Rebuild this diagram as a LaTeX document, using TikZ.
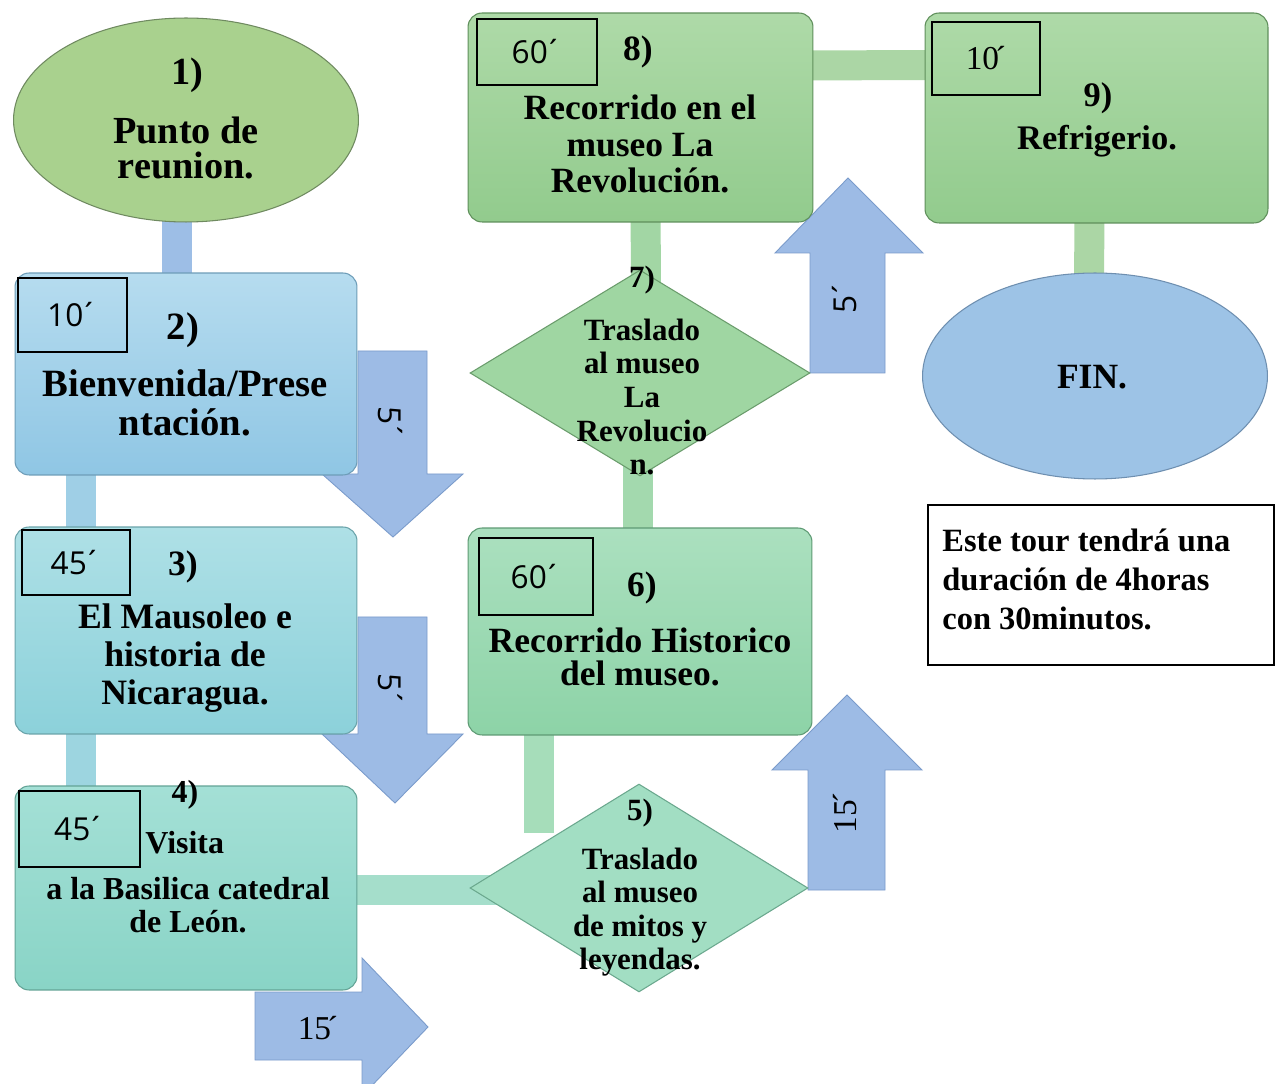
\documentclass[tikz,border=0pt]{standalone}
\usepackage{fontspec}
\setmainfont{Liberation Serif}
\newfontfamily\minfont{Open Sans}
\usetikzlibrary{shapes.geometric,backgrounds,calc}
\definecolor{eoneF}{HTML}{A9D18E}
\definecolor{eoneD}{HTML}{6F8A60}
\definecolor{btwoT}{HTML}{B6DCEF}
\definecolor{btwoB}{HTML}{8FC6E4}
\definecolor{btwoD}{HTML}{6E9DB8}
\definecolor{bthrT}{HTML}{AEE0E6}
\definecolor{bthrB}{HTML}{8CD1DA}
\definecolor{bthrD}{HTML}{6AA3AA}
\definecolor{bfouT}{HTML}{A4E0D6}
\definecolor{bfouB}{HTML}{89D4C6}
\definecolor{bfouD}{HTML}{63A396}
\definecolor{dfivF}{HTML}{A2DEC3}
\definecolor{dfivD}{HTML}{6BA88E}
\definecolor{bsixT}{HTML}{ABE0BF}
\definecolor{bsixB}{HTML}{8DD3A7}
\definecolor{bsixD}{HTML}{5E9A74}
\definecolor{dsevF}{HTML}{9FD6A2}
\definecolor{dsevD}{HTML}{6A9C6C}
\definecolor{beigT}{HTML}{AEDAA8}
\definecolor{beigB}{HTML}{92CB8D}
\definecolor{beigD}{HTML}{5F8F5B}
\definecolor{finF}{HTML}{9DC3E6}
\definecolor{finD}{HTML}{6E8FB0}
\definecolor{arrF}{HTML}{9DBBE5}
\definecolor{arrD}{HTML}{7A9BCB}
\definecolor{cAB}{HTML}{9DBEE6}
\definecolor{cBC}{HTML}{9FCFE6}
\definecolor{cCD}{HTML}{9DD5E0}
\definecolor{cDE}{HTML}{A5DECB}
\definecolor{cEF}{HTML}{A6DDBA}
\definecolor{cFG}{HTML}{A3D9AE}
\definecolor{cGH}{HTML}{A2D6A4}
\definecolor{cHI}{HTML}{ABD6A5}
\newcommand\acc{\kern-0.12em´}
\tikzset{
  proc/.style={rectangle, rounded corners=8pt, line width=0.6pt, inner sep=0pt},
  minbox/.style={rectangle, draw=black, line width=1pt, inner sep=0pt,
                 font=\minfont\fontsize{18}{20}\selectfont},
  minser/.style={rectangle, draw=black, line width=1pt, inner sep=0pt,
                 font=\fontsize{19}{20}\selectfont},
  blockarrow/.style={fill=arrF, draw=arrD, line width=0.5pt, line join=miter},
  arrlab/.style={inner sep=0pt, font=\minfont\fontsize{18}{20}\selectfont},
  arrlabser/.style={inner sep=0pt, font=\fontsize{19}{20}\selectfont},
  bar/.style={line width=0.6cm},
  tA/.style={inner sep=0pt, align=center, font=\bfseries\fontsize{21.8}{19.8}\selectfont},
  tB/.style={inner sep=0pt, align=center, font=\bfseries\fontsize{22}{22.1}\selectfont},
  tC/.style={inner sep=0pt, align=center, font=\bfseries\fontsize{20.3}{21.5}\selectfont},
  tD/.style={inner sep=0pt, align=center, font=\bfseries\fontsize{18.2}{19}\selectfont},
  tE/.style={inner sep=0pt, align=center, font=\bfseries\fontsize{20.2}{19}\selectfont},
  tF/.style={inner sep=0pt, align=center, font=\bfseries\fontsize{20.2}{20.7}\selectfont},
  tG/.style={inner sep=0pt, align=center, font=\bfseries\fontsize{19.6}{21}\selectfont},
  tDia/.style={inner sep=0pt, align=center, font=\bfseries\fontsize{17.6}{19.1}\selectfont},
  tNote/.style={inner sep=0pt, align=left, font=\bfseries\fontsize{18.5}{22.2}\selectfont},
}
\begin{document}
\begin{tikzpicture}[x=0.02cm,y=-0.02cm]
\useasboundingbox (0,0) rectangle (1276,1084);

% ---- block arrows (durations) ----
\draw[blockarrow] (358,351) -- (427,351) -- (427,474) -- (463,474) -- (393,537) -- (322,474) -- (358,474) -- cycle;
\node[arrlab, rotate=-90] (aone) at (390,423) {5\acc};
\draw[blockarrow] (358,617) -- (427,617) -- (427,734) -- (463,734) -- (395,803) -- (322,734) -- (358,734) -- cycle;
\node[arrlab, rotate=-90] (atwo) at (390,690) {5\acc};
\draw[blockarrow] (255,992) -- (362,992) -- (362,958) -- (428,1027) -- (362,1096) -- (362,1060) -- (255,1060) -- cycle;
\node[arrlabser] (athr) at (318,1028) {15\acc};
\draw[blockarrow] (808,890) -- (808,770) -- (772,770) -- (847,695) -- (922,770) -- (885,770) -- (885,890) -- cycle;
\node[arrlabser, rotate=90] (afou) at (845,813) {15\acc};
\draw[blockarrow] (810,373) -- (810,253) -- (775,253) -- (848,178) -- (923,253) -- (885,253) -- (885,373) -- cycle;
\node[arrlab, rotate=90] (afiv) at (845,297) {5\acc};

% ---- shapes ----
\node[ellipse, draw=eoneD, line width=0.6pt, fill=eoneF, minimum width=6.9cm, minimum height=4.08cm, inner sep=0pt] (e1) at (186,120) {};
\node[tA] (e1n) at (187,75) {1)};
\node[tA] (e1t) at (186,148) {Punto de\\reunion.};

\node[proc, top color=btwoT, bottom color=btwoB, draw=btwoD, minimum width=6.84cm, minimum height=4.04cm] (b2) at (186,374) {};
\node[minbox, minimum width=2.18cm, minimum height=1.48cm] (m2) at (72.5,315) {10\acc};
\node[tB] (b2n) at (183,330) {2)};
\node[tB] (b2t) at (185,403) {Bienvenida/Prese\\ntación.};

\node[proc, top color=bthrT, bottom color=bthrB, draw=bthrD, minimum width=6.84cm, minimum height=4.14cm] (b3) at (186,630.5) {};
\node[minbox, minimum width=2.16cm, minimum height=1.3cm] (m3) at (76,562.5) {45\acc};
\node[tC] (b3n) at (183,567) {3)};
\node[tC] (b3t) at (185,658) {El Mausoleo e\\historia de\\Nicaragua.};

\node[proc, top color=bfouT, bottom color=bfouB, draw=bfouD, minimum width=6.84cm, minimum height=4.08cm] (b4) at (186,888) {};
\node[minbox, minimum width=2.42cm, minimum height=1.52cm] (m4) at (79.5,829) {45\acc};
\node[tD] (b4n) at (185,795) {4)};
\node[tD, anchor=west] (b4v) at (145,843) {Visita};
\node[tD] (b4t) at (188,905) {a la Basilica catedral\\de León.};

\node[diamond, draw=dfivD, line width=0.6pt, fill=dfivF, minimum width=6.76cm, minimum height=4.16cm, inner sep=0pt] (d5) at (639,888) {};
\node[tDia] (d5n) at (640,813) {5)};
\node[tDia] (d5t) at (640,912) {Traslado\\al museo\\de mitos y\\leyendas.};

\node[proc, top color=bsixT, bottom color=bsixB, draw=bsixD, minimum width=6.88cm, minimum height=4.14cm] (b6) at (640,631.5) {};
\node[minbox, minimum width=2.28cm, minimum height=1.54cm] (m6) at (536,576.5) {60\acc};
\node[tE] (b6n) at (642,588) {6)};
\node[tE] (b6t) at (640,657) {Recorrido Historico\\del museo.};

\node[diamond, draw=dsevD, line width=0.6pt, fill=dsevF, minimum width=6.8cm, minimum height=4.12cm, inner sep=0pt] (d7) at (640,373) {};
\node[tDia] (d7n) at (642,280) {7)};
\node[tDia] (d7t) at (642,397) {Traslado\\al museo\\La\\Revolucio\\n.};

\node[proc, top color=beigT, bottom color=beigB, draw=beigD, minimum width=6.9cm, minimum height=4.18cm] (b8) at (640.5,117.5) {};
\node[minbox, minimum width=2.4cm, minimum height=1.32cm] (m8) at (537,52) {60\acc};
\node[tF] (b8n) at (638,52) {8)};
\node[tF] (b8t) at (640,144) {Recorrido en el\\museo La\\Revolución.};

\node[proc, top color=beigT, bottom color=beigB, draw=beigD, minimum width=6.86cm, minimum height=4.2cm] (b9) at (1096.5,118) {};
\node[minser, minimum width=2.16cm, minimum height=1.46cm] (m9) at (986,58.5) {10\acc};
\node[tG] (b9n) at (1098,98) {9)};
\node[tG] (b9t) at (1097,141) {Refrigerio.};

\node[ellipse, draw=finD, line width=0.6pt, fill=finF, minimum width=6.9cm, minimum height=4.12cm, inner sep=0pt] (fin) at (1095,376) {};
\node[tE] (fint) at (1092,377) {FIN.};

\node[rectangle, draw=black, line width=1.1pt, minimum width=6.92cm, minimum height=3.2cm, inner sep=0pt] (note) at (1101,585) {};
\node[tNote, anchor=west] (notet) at (942,579) {Este tour tendrá una\\duración de 4horas\\con 30minutos.};

% ---- connectors (behind) ----
\coordinate (k56) at (539,833);
\begin{scope}[on background layer]
\fill[white] (0,0) rectangle (1276,1084);
\draw[bar, cAB] ($(e1.center)+(-9,0)$) -- ($(b2.center)+(-9,0)$);
\draw[bar, cBC] ($(b2.center)+(-105,0)$) -- ($(b3.center)+(-105,0)$);
\draw[bar, cCD] ($(b3.center)+(-105,0)$) -- ($(b4.center)+(-105,0)$);
\draw[bar, cDE] ($(b4.center)+(0,2)$) -- ($(d5.center)+(0,2)$);
\draw[bar, cEF] ($(b6.center)+(-101,0)$) -- (k56);
\draw[bar, cFG] ($(d7.center)+(-2,0)$) -- ($(b6.center)+(-2,0)$);
\draw[bar, cGH] ($(b8.center)+(5,0)$) -- ($(d7.center)+(6,0)$);
\draw[bar, cHI] ($(b8.center)+(0,-52)$) -- ($(b9.center)+(0,-53)$);
\draw[bar, cHI] ($(b9.center)+(-7,0)$) -- ($(fin.center)+(-6,0)$);
\end{scope}
\end{tikzpicture}
\end{document}
